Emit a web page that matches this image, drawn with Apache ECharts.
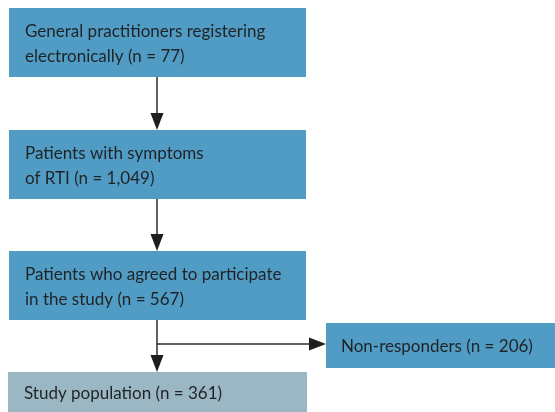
<!DOCTYPE html>
<html><head><meta charset="utf-8">
<script src="https://cdn.jsdelivr.net/npm/echarts@6/dist/echarts.min.js"></script>
<style>html,body{margin:0;padding:0;background:#fff}#c{width:555px;height:412px}</style>
</head><body><div id="c"></div>
<script>
// Flowchart content
const steps = [
  "General practitioners registering\nelectronically (n = 77)",
  "Patients with symptoms\nof RTI (n = 1,049)",
  "Patients who agreed to participate\nin the study (n = 567)",
  "Study population (n = 361)"
];
const sideBranch = ["Non-responders (n = 206)"];
const counts = [77, 1049, 567, 361, 206];

// Layout (pixels)
const boxes = [
  {x: 9, y: 8, w: 297, h: 69, fill: '#519cc4'},
  {x: 9, y: 130, w: 297, h: 69, fill: '#519cc4'},
  {x: 9, y: 251, w: 297, h: 69, fill: '#519cc4'},
  {x: 8, y: 372, w: 299, h: 40, fill: '#9bb7c4'}
];
const sideBox = {x: 326, y: 323, w: 229, h: 45, fill: '#519cc4'};
const axisX = 157, branchY = 344;
const font = 'Lato';
const fs = 17;
const txtColor = '#1f2326';
const lineColor = '#2b2b2b';

const elements = [];
boxes.forEach((b, i) => {
  elements.push({type: 'rect', shape: {x: b.x, y: b.y, width: b.w, height: b.h}, style: {fill: b.fill}});
  elements.push({type: 'text', x: b.x + 16, y: b.y + b.h / 2 + 2,
    style: {text: steps[i], fill: txtColor, font: fs + 'px ' + font, textVerticalAlign: 'middle', lineHeight: 25}});
});
elements.push({type: 'rect', shape: {x: sideBox.x, y: sideBox.y, width: sideBox.w, height: sideBox.h}, style: {fill: sideBox.fill}});
elements.push({type: 'text', x: sideBox.x + 15, y: sideBox.y + sideBox.h / 2 + 1,
  style: {text: sideBranch[0], fill: txtColor, font: fs + 'px ' + font, textVerticalAlign: 'middle'}});

function vArrow(y1, y2) {
  elements.push({type: 'line', shape: {x1: axisX, y1: y1, x2: axisX, y2: y2 - 14}, style: {stroke: lineColor, lineWidth: 1.5}});
  elements.push({type: 'polygon', shape: {points: [[axisX - 6.5, y2 - 17], [axisX + 6.5, y2 - 17], [axisX, y2]]}, style: {fill: '#1e1e1e'}});
}
vArrow(77, 130);
vArrow(199, 251);
vArrow(320, 372);
elements.push({type: 'line', shape: {x1: axisX, y1: branchY, x2: sideBox.x - 14, y2: branchY}, style: {stroke: lineColor, lineWidth: 1.5}});
elements.push({type: 'polygon', shape: {points: [[sideBox.x - 17, branchY - 6.5], [sideBox.x - 17, branchY + 6.5], [sideBox.x, branchY]]}, style: {fill: '#1e1e1e'}});

const chart = echarts.init(document.getElementById('c'));
chart.setOption({animation: false, graphic: {elements: elements}});
</script></body></html>
